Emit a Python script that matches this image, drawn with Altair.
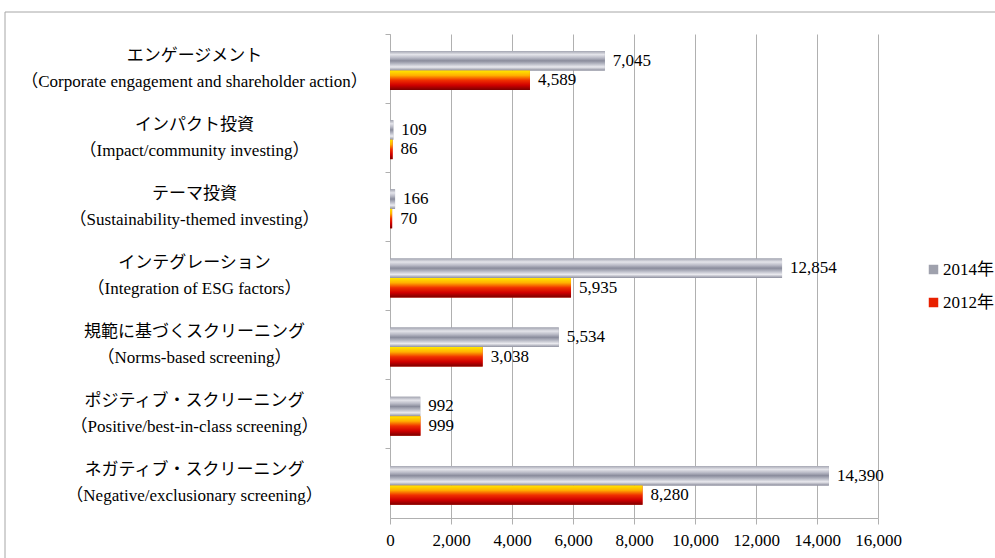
import altair as alt
import pandas as pd

categories = [
    "エンゲージメント\n（Corporate engagement and shareholder action）",
    "インパクト投資\n（Impact/community investing）",
    "テーマ投資\n（Sustainability-themed investing）",
    "インテグレーション\n（Integration of ESG factors）",
    "規範に基づくスクリーニング\n（Norms-based screening）",
    "ポジティブ・スクリーニング\n（Positive/best-in-class screening）",
    "ネガティブ・スクリーニング\n（Negative/exclusionary screening）",
]
years = ["2014年", "2012年"]
v2014 = [7045, 109, 166, 12854, 5534, 992, 14390]
v2012 = [4589, 86, 70, 5935, 3038, 999, 8280]
x_ticks = [0, 2000, 4000, 6000, 8000, 10000, 12000, 14000, 16000]

rows = []
for c, a, b in zip(categories, v2014, v2012):
    rows.append({"cat": c, "year": years[0], "value": a})
    rows.append({"cat": c, "year": years[1], "value": b})
df = pd.DataFrame(rows)
df["label"] = df["value"].map(lambda v: f"{v:,}")

FONT = "Liberation Serif, Noto Sans CJK JP, serif"
GRAY = "#b0b0b0"
FS = 17

stops14 = [(0, "#a3a5b1"), (0.18, "#e4e4ea"), (0.35, "#b9bac6"), (0.5, "#8a8c9c"),
           (0.65, "#b5b7c3"), (0.82, "#eaeaef"), (1, "#8d8f9e")]
stops12 = [(0, "#ffe800"), (0.25, "#ffb000"), (0.5, "#f03000"), (0.75, "#d00000"), (1, "#7a0000")]


def grad_obj(stops):
    return alt.Gradient(gradient="linear", x1=0, x2=0, y1=0, y2=1,
                        stops=[alt.GradientStop(offset=o, color=c) for o, c in stops])


base = alt.Chart(df).encode(
    y=alt.Y(
        "cat:N",
        sort=categories,
        scale=alt.Scale(paddingInner=0.38, paddingOuter=0.19),
        axis=alt.Axis(
            title=None,
            bandPosition=-0.306,
            labelExpr="split(datum.label, '\\n')",
            labelAlign="center",
            labelBaseline="middle",
            labelPadding=191,
            labelOffset=-13,
            labelLimit=500,
            labelLineHeight=26,
            labelFontSize=FS,
            labelColor="#000000",
            ticks=True,
            tickSize=5,
            tickColor=GRAY,
            grid=False,
            domainColor=GRAY,
        ),
    ),
    yOffset=alt.YOffset(
        "year:N", sort=years,
        scale=alt.Scale(paddingInner=0.0, paddingOuter=0.1, align=1),
    ),
    x=alt.X(
        "value:Q",
        scale=alt.Scale(domain=[0, 16000], nice=False),
        axis=alt.Axis(
            title=None,
            values=x_ticks,
            labelExpr="format(datum.value, ',')",
            labelOverlap=False,
            labelFlush=False,
            gridColor=GRAY,
            domainColor=GRAY,
            tickColor=GRAY,
            tickSize=6,
            labelPadding=8,
            labelFontSize=FS,
            labelColor="#000000",
        ),
    ),
)

solid = base.mark_bar().encode(
    color=alt.Color(
        "year:N",
        sort=years,
        scale=alt.Scale(domain=years, range=["#9fa1ad", "#e82000"]),
        legend=alt.Legend(
            title=None,
            orient="none",
            legendX=535,
            legendY=227,
            padding=0,
            symbolType="square",
            symbolSize=90,
            symbolStrokeWidth=0,
            labelFontSize=FS,
            labelColor="#000000",
            rowPadding=15,
            labelOffset=1,
        ),
    )
)

g14 = base.transform_filter(alt.datum.year == years[0]).mark_bar(color=grad_obj(stops14))
g12 = base.transform_filter(alt.datum.year == years[1]).mark_bar(color=grad_obj(stops12))

text = base.mark_text(align="left", baseline="middle", dx=8, fontSize=FS, font=FONT, color="#000000").encode(
    text="label:N"
)

frame = alt.Chart(pd.DataFrame({"f": [0]})).mark_rect(
    fill="transparent", stroke="#a6a6a6", strokeWidth=1
).encode(
    x=alt.value(-385), x2=alt.value(650), y=alt.value(-22), y2=alt.value(600)
)

chart = (
    alt.layer(solid, g14, g12, text, frame)
    .properties(
        width=488,
        height=484,
        autosize=alt.AutoSizeParams(type="none"),
        padding={"left": 390, "top": 34, "right": 117, "bottom": 40},
    )
    .configure(font=FONT)
    .configure_view(strokeWidth=0)
)

chart.save("out.html", embed_options={"renderer": "svg", "actions": False})
